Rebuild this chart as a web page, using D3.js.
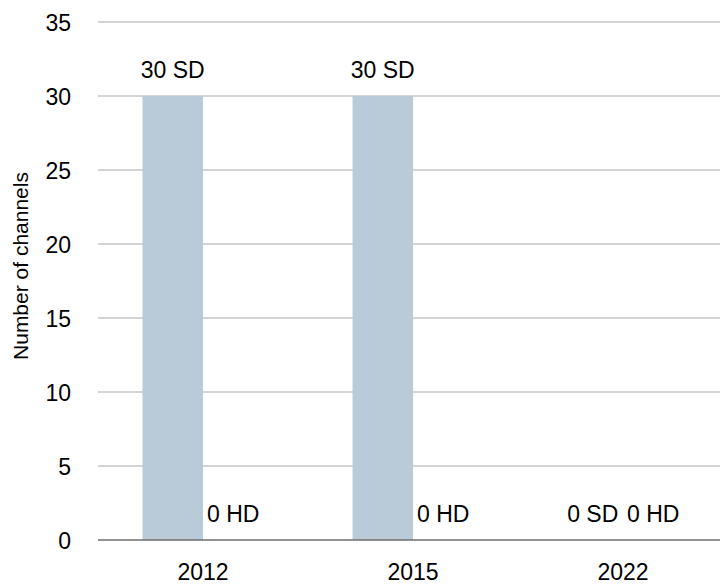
<!DOCTYPE html>
<html>
<head>
<meta charset="utf-8">
<script src="https://cdn.jsdelivr.net/npm/d3@7"></script>
<style>
  html, body { margin: 0; padding: 0; background: #fff; }
  svg { display: block; font-family: "Liberation Sans", Arial, sans-serif; }
</style>
</head>
<body>
<svg id="chart" width="720" height="585"></svg>
<script>
// Channel counts per year, standard vs high definition
const years = ["2012", "2015", "2022"];
const seriesNames = ["SD", "HD"];
const sdValues = [30, 30, 0];
const hdValues = [0, 0, 0];
const yTicks = [0, 5, 10, 15, 20, 25, 30, 35];
const yTitle = "Number of channels";

const rows = years.map((yr, i) => ({ year: yr, SD: sdValues[i], HD: hdValues[i] }));

const svg = d3.select("#chart");
const plotLeft = 98, plotRight = 728, plotTop = 22, plotBottom = 540;

const x0 = d3.scaleBand().domain(years).range([plotLeft, plotRight]).padding(0);
const x1 = d3.scaleBand().domain(seriesNames).range([0, x0.bandwidth()])
  .paddingInner(0).paddingOuter(0.736);
const y = d3.scaleLinear().domain([0, 35]).range([plotBottom, plotTop]);

// horizontal gridlines
svg.append("g")
  .selectAll("line")
  .data(yTicks.filter(t => t > 0))
  .join("line")
  .attr("x1", plotLeft).attr("x2", 720)
  .attr("y1", d => y(d)).attr("y2", d => y(d))
  .attr("stroke", "#c6c6c6").attr("stroke-width", 1.6);

// y axis tick labels
const yAxis = d3.axisLeft(y).tickValues(yTicks).tickSize(0).tickPadding(0);
svg.append("g")
  .attr("transform", `translate(${plotLeft - 27},0)`)
  .call(yAxis)
  .call(g => g.select(".domain").remove())
  .call(g => g.selectAll("text")
    .attr("font-size", 23).attr("fill", "#000")
    .attr("font-family", "Liberation Sans, Arial, sans-serif")
    .attr("dy", "0.36em"));

// bars
const groups = svg.append("g").selectAll("g")
  .data(rows)
  .join("g")
  .attr("transform", d => `translate(${x0(d.year)},0)`);

groups.selectAll("rect")
  .data(d => seriesNames.map(s => ({ key: s, value: d[s] })))
  .join("rect")
  .attr("x", d => x1(d.key))
  .attr("width", x1.bandwidth())
  .attr("y", d => y(d.value))
  .attr("height", d => y(0) - y(d.value))
  .attr("fill", "#b9cbd9");

// value labels
groups.selectAll("text")
  .data(d => seriesNames.map(s => ({ key: s, value: d[s] })))
  .join("text")
  .attr("x", d => x1(d.key) + x1.bandwidth() / 2)
  .attr("y", d => y(d.value) - 18)
  .attr("text-anchor", "middle")
  .attr("font-size", 23)
  .attr("fill", "#000")
  .text(d => `${d.value} ${d.key}`);

// x axis labels
const xAxis = d3.axisBottom(x0).tickSize(0).tickPadding(0);
svg.append("g")
  .attr("transform", `translate(0,${plotBottom})`)
  .call(xAxis)
  .call(g => g.select(".domain").remove())
  .call(g => g.selectAll("text")
    .attr("font-size", 23).attr("fill", "#000")
    .attr("font-family", "Liberation Sans, Arial, sans-serif")
    .attr("dy", null)
    .attr("y", 40));

// x axis baseline
svg.append("line")
  .attr("x1", plotLeft).attr("x2", 720)
  .attr("y1", plotBottom).attr("y2", plotBottom)
  .attr("stroke", "#6e6e6e").attr("stroke-width", 1.6);

// y axis title
svg.append("text")
  .attr("transform", `translate(28,266) rotate(-90)`)
  .attr("text-anchor", "middle")
  .attr("font-size", 21)
  .attr("fill", "#000")
  .text(yTitle);
</script>
</body>
</html>
